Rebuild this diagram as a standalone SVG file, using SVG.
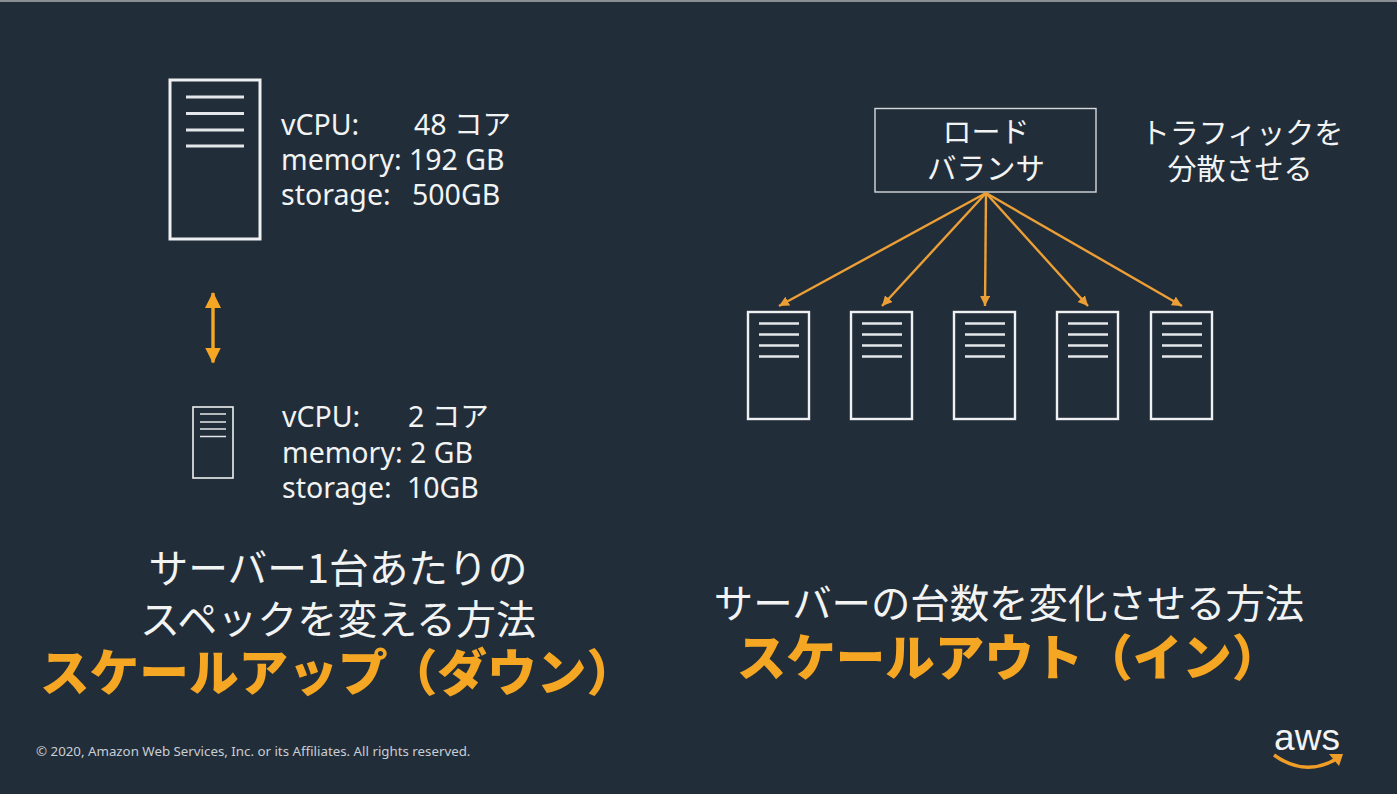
<svg xmlns="http://www.w3.org/2000/svg" width="1400" height="799" viewBox="0 0 1400 799">
<style>
.t{font-family:"Noto Sans","Noto Sans CJK JP",sans-serif;fill:#f2f3f3}
.j{font-family:"Noto Sans CJK JP","Noto Sans",sans-serif;fill:#f2f3f3}
.o{font-family:"Noto Sans CJK JP","Noto Sans",sans-serif;fill:#f5a623;font-weight:900}
.spec{font-size:28.500px}
.box{fill:none;stroke:#eef0f1}
.ln{stroke:#e4e7e9}
.arr{stroke:#eb9f35;stroke-width:2.400;fill:none;marker-end:url(#a)}
</style>
<defs>
<marker id="a" markerUnits="userSpaceOnUse" markerWidth="12" markerHeight="12" refX="10" refY="5" orient="auto"><path d="M0 0L10 5L0 10z" fill="#eb9f35"/></marker>
<marker id="b" markerUnits="userSpaceOnUse" markerWidth="18" markerHeight="18" refX="15" refY="8" orient="auto-start-reverse"><path d="M0 0L16 8L0 16z" fill="#f5a623"/></marker>
<g id="srv"><rect class="box" stroke-width="2.400" x="0" y="0" width="61" height="107"/>
<path class="ln" stroke-width="2.400" d="M11 11.500H51M11 22.500H51M11 33.500H51M11 44.500H51"/></g>
</defs>
<rect width="1400" height="799" fill="#ffffff"/>
<rect width="1397" height="2" fill="#8a8f96"/>
<rect y="2" width="1397" height="792" fill="#222d3a"/>
<g id="server-large"><rect class="box" stroke-width="3" x="170" y="80" width="90" height="159"/>
<path class="ln" stroke-width="2.800" d="M186 97H244M186 113.500H244M186 130H244M186 146H244"/></g>
<g id="spec-large" class="t spec">
<text x="281" y="135">vCPU:</text><text x="414" y="135">48 コア</text>
<text x="281" y="170">memory: 192 GB</text>
<text x="281" y="205">storage:</text><text x="412" y="205">500GB</text></g>
<g id="server-small"><rect class="box" stroke-width="1.600" x="193" y="407" width="40" height="71"/>
<path class="ln" stroke-width="1.500" d="M200 414H226M200 422H226M200 429H226M200 436.500H226"/></g>
<g id="spec-small" class="t spec">
<text x="282" y="427">vCPU:</text><text x="408" y="427">2 コア</text>
<text x="282" y="463">memory: 2 GB</text>
<text x="282" y="498">storage:</text><text x="407" y="498">10GB</text></g>
<g id="text-left">
<text class="j" x="338" y="583" font-size="39.700" text-anchor="middle">サーバー1台あたりの</text>
<text class="j" x="338" y="634" font-size="40" text-anchor="middle">スペックを変える方法</text>
<text class="o" x="338" y="691" font-size="49.700" text-anchor="middle">スケールアップ（ダウン）</text></g>
<g id="load-balancer"><rect x="875" y="108.500" width="221" height="83.500" fill="none" stroke="#d5d9dc" stroke-width="1.400"/>
<text class="j" x="986" y="143" font-size="29" text-anchor="middle">ロード</text>
<text class="j" x="986" y="179" font-size="29.500" text-anchor="middle">バランサ</text></g>
<g id="traffic-note" class="j">
<text x="1242" y="144" font-size="29" text-anchor="middle">トラフィックを</text>
<text x="1240" y="180" font-size="29" text-anchor="middle">分散させる</text></g>
<g id="connectors">
<path class="arr" d="M986 193L779 306"/>
<path class="arr" d="M986 193L882 306"/>
<path class="arr" d="M986 193L985 306"/>
<path class="arr" d="M986 193L1088 306"/>
<path class="arr" d="M986 193L1182 306"/>
<path d="M213 293V362.500" stroke="#f5a623" stroke-width="3.400" fill="none" marker-start="url(#b)" marker-end="url(#b)"/>
</g>
<g id="server-1"><use href="#srv" x="748" y="312"/></g>
<g id="server-2"><use href="#srv" x="851" y="312"/></g>
<g id="server-3"><use href="#srv" x="954" y="312"/></g>
<g id="server-4"><use href="#srv" x="1057" y="312"/></g>
<g id="server-5"><use href="#srv" x="1151" y="312"/></g>
<g id="text-right">
<text class="j" x="1009" y="618" font-size="39.400" text-anchor="middle">サーバーの台数を変化させる方法</text>
<text class="o" x="1009" y="676" font-size="49.500" text-anchor="middle">スケールアウト（イン）</text></g>
<text id="copyright" x="36" y="756" font-family="Noto Sans,sans-serif" font-size="13.300" fill="#c9ced3">© 2020, Amazon Web Services, Inc. or its Affiliates. All rights reserved.</text>
<g id="aws-logo"><text x="1307" y="750" font-family="Liberation Sans,sans-serif" font-size="37" fill="#f2f3f3" text-anchor="middle">aws</text>
<path d="M1274 755Q1306 778 1338 758" fill="none" stroke="#f09d28" stroke-width="3.400"/><path d="M1329 754L1343 754L1339 766z" fill="#f09d28"/></g>
</svg>
